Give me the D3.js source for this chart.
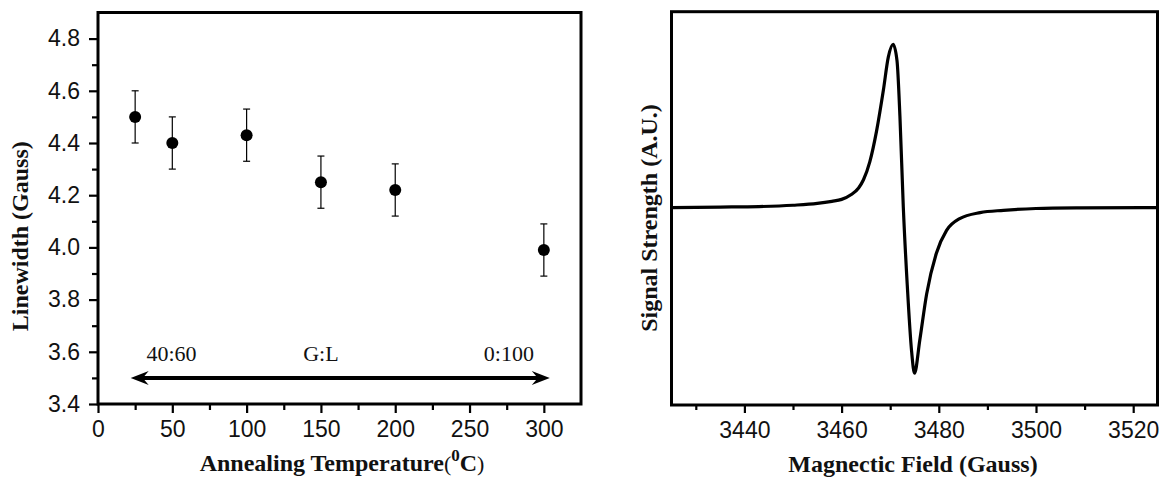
<!DOCTYPE html>
<html>
<head>
<meta charset="utf-8">
<script src="https://cdn.jsdelivr.net/npm/d3@7/dist/d3.min.js"></script>
<style>
  html, body { margin: 0; padding: 0; background: #fff; }
  svg { display: block; }
  .tick text { font-family: "Liberation Sans", Arial, sans-serif; font-size: 23px; fill: #111; }
  .title { font-family: "Liberation Serif", "Times New Roman", serif; font-weight: bold; font-size: 24px; fill: #111; }
  .note { font-family: "Liberation Serif", "Times New Roman", serif; font-size: 22px; fill: #111; }
</style>
</head>
<body>
<svg id="chart" width="1163" height="479"></svg>
<script>
// Linewidth vs annealing temperature
const temps = [25, 50, 100, 150, 200, 300];
const linewidth = [4.50, 4.40, 4.43, 4.25, 4.22, 3.99];
const linewidthErr = [0.10, 0.10, 0.10, 0.10, 0.10, 0.10];
const tempTicks = [0, 50, 100, 150, 200, 250, 300];
const tempMinorTicks = [25, 75, 125, 175, 225, 275];
const linewidthTicks = [3.4, 3.6, 3.8, 4.0, 4.2, 4.4, 4.6, 4.8];
const linewidthMinorTicks = [3.5, 3.7, 3.9, 4.1, 4.3, 4.5, 4.7];

// G:L ratio annotation (double arrow spanning the series)
const ratioLabels = ["40:60", "G:L", "0:100"];
const ratioLabelTemp = [49.5, 150, 276.5];
const ratioArrowTemp = [22, 304];
const ratioArrowLevel = 3.5;
const ratioLabelLevel = 3.565;

// EPR first-derivative spectrum
const field = [3425, 3435, 3443, 3450, 3455, 3458, 3460, 3462, 3463.5, 3464.5, 3465.8,
  3467.2, 3468.6, 3469.6, 3470.6, 3471.4, 3472.0, 3472.7, 3473.5, 3474.4, 3475.0,
  3476.1, 3477.5, 3479.5, 3481.6, 3484.3, 3488.5, 3493.3, 3500, 3509, 3525];
const signal = [0, 0.003, 0.006, 0.014, 0.025, 0.038, 0.05, 0.08, 0.12, 0.17, 0.28,
  0.47, 0.72, 0.92, 1.0, 0.9, 0.56, 0, -0.47, -0.88, -1.015,
  -0.81, -0.53, -0.28, -0.14, -0.068, -0.031, -0.017, -0.006, -0.002, 0];
const fieldTicks = [3440, 3460, 3480, 3500, 3520];
const fieldMinorTicks = [3430, 3450, 3470, 3490, 3510];

const svg = d3.select("#chart");

function frame(g, x0, x1, y0, y1) {
  g.append("rect")
    .attr("x", x0).attr("y", y0)
    .attr("width", x1 - x0).attr("height", y1 - y0)
    .attr("fill", "none").attr("stroke", "#000").attr("stroke-width", 3);
}

function styleAxis(sel) {
  sel.select(".domain").remove();
  sel.selectAll(".tick line").attr("stroke", "#000").attr("stroke-width", 2.2);
}

// ---------- left panel ----------
{
  const L = 98, R = 581, T = 12.5, B = 404;
  const x = d3.scaleLinear().domain([0, 325]).range([L, R]);
  const y = d3.scaleLinear().domain([3.4, 4.9]).range([B, T]);
  const g = svg.append("g");

  g.append("g").attr("transform", `translate(0,${B})`)
    .call(d3.axisBottom(x).tickValues(tempTicks).tickSize(9).tickPadding(8).tickFormat(d3.format("d")))
    .call(styleAxis);
  g.append("g").attr("transform", `translate(0,${B})`)
    .call(d3.axisBottom(x).tickValues(tempMinorTicks).tickSize(6).tickFormat(""))
    .call(styleAxis);
  g.append("g").attr("transform", `translate(${L},0)`)
    .call(d3.axisLeft(y).tickValues(linewidthTicks).tickSize(9).tickPadding(9).tickFormat(d3.format(".1f")))
    .call(styleAxis);
  g.append("g").attr("transform", `translate(${L},0)`)
    .call(d3.axisLeft(y).tickValues(linewidthMinorTicks).tickSize(6).tickFormat(""))
    .call(styleAxis);
  g.selectAll(".tick text").attr("font-size", 24);

  frame(g, L, R, T, B);

  const pts = temps.map((t, i) => ({ t, v: linewidth[i], e: linewidthErr[i] }));
  const eb = g.append("g").attr("stroke", "#000").attr("stroke-width", 1.2);
  eb.selectAll("line.v").data(pts).join("line").attr("class", "v")
    .attr("x1", d => x(d.t)).attr("x2", d => x(d.t))
    .attr("y1", d => y(d.v - d.e)).attr("y2", d => y(d.v + d.e));
  ["top", "bot"].forEach(k => {
    eb.selectAll("line." + k).data(pts).join("line").attr("class", k)
      .attr("x1", d => x(d.t) - 3.5).attr("x2", d => x(d.t) + 3.5)
      .attr("y1", d => y(k === "top" ? d.v + d.e : d.v - d.e))
      .attr("y2", d => y(k === "top" ? d.v + d.e : d.v - d.e));
  });
  g.selectAll("circle").data(pts).join("circle")
    .attr("cx", d => x(d.t)).attr("cy", d => y(d.v)).attr("r", 6).attr("fill", "#000");

  // double-headed arrow
  const head = (tipX, dir, yy) => {
    const p = d3.path();
    p.moveTo(tipX, yy);
    p.lineTo(tipX + dir * 18, yy - 7);
    p.lineTo(tipX + dir * 12, yy);
    p.lineTo(tipX + dir * 18, yy + 7);
    p.closePath();
    return p.toString();
  };
  const ay = y(ratioArrowLevel);
  g.append("line")
    .attr("x1", x(ratioArrowTemp[0]) + 8).attr("x2", x(ratioArrowTemp[1]) - 8)
    .attr("y1", ay).attr("y2", ay)
    .attr("stroke", "#000").attr("stroke-width", 4);
  g.append("path").attr("d", head(x(ratioArrowTemp[0]), 1, ay)).attr("fill", "#000");
  g.append("path").attr("d", head(x(ratioArrowTemp[1]), -1, ay)).attr("fill", "#000");

  g.selectAll("text.note").data(ratioLabels).join("text").attr("class", "note")
    .attr("x", (d, i) => x(ratioLabelTemp[i])).attr("y", y(ratioLabelLevel))
    .attr("text-anchor", "middle").text(d => d);

  // axis titles
  const xt = g.append("text").attr("class", "title")
    .attr("x", 342).attr("y", 471).attr("text-anchor", "middle");
  xt.append("tspan").text("Annealing Temperature");
  xt.append("tspan").attr("font-weight", "normal").attr("font-size", 22).text("(");
  xt.append("tspan").attr("font-size", 17).attr("dy", -10).text("0");
  xt.append("tspan").attr("dy", 10).text("C");
  xt.append("tspan").attr("font-weight", "normal").attr("font-size", 22).text(")");

  g.append("text").attr("class", "title")
    .attr("transform", `translate(28,${(T + B) / 2 + 28}) rotate(-90)`)
    .attr("text-anchor", "middle").text("Linewidth (Gauss)");
}

// ---------- right panel ----------
{
  const L = 671.5, R = 1157.5, T = 11.7, B = 405;
  const x = d3.scaleLinear().domain([3425, 3525]).range([L, R]);
  const y = d3.scaleLinear().domain([-1.21, 1.2]).range([B, T]);
  const g = svg.append("g");

  g.append("g").attr("transform", `translate(0,${B})`)
    .call(d3.axisBottom(x).tickValues(fieldTicks).tickSize(8).tickPadding(9).tickFormat(d3.format("d")))
    .call(styleAxis);
  g.append("g").attr("transform", `translate(0,${B})`)
    .call(d3.axisBottom(x).tickValues(fieldMinorTicks).tickSize(5).tickFormat(""))
    .call(styleAxis);

  frame(g, L, R, T, B);

  const line = d3.line()
    .x((d, i) => x(field[i]))
    .y((d, i) => y(signal[i]))
    .curve(d3.curveMonotoneX);
  g.append("path").datum(signal)
    .attr("d", line)
    .attr("fill", "none").attr("stroke", "#000").attr("stroke-width", 3.2)
    .attr("stroke-linejoin", "round");

  g.append("text").attr("class", "title")
    .attr("x", 913).attr("y", 472).attr("text-anchor", "middle")
    .text("Magnectic Field (Gauss)");

  g.append("text").attr("class", "title")
    .attr("transform", `translate(657,218) rotate(-90)`)
    .attr("text-anchor", "middle").text("Signal Strength (A.U.)");
}
</script>
</body>
</html>
